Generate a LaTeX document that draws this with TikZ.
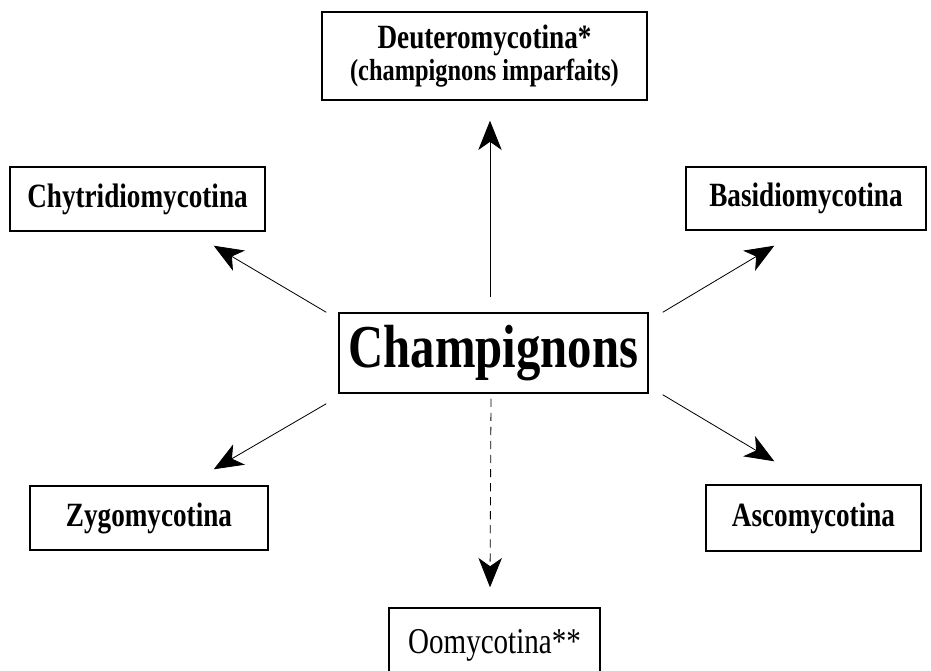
\documentclass[tikz,border=0pt]{standalone}
\usepackage{fontspec}
\setmainfont{Liberation Serif}[FakeStretch=0.8]
\usetikzlibrary{arrows.meta,calc}

\newcommand\pxu{0.03cm}

\tikzset{
  groupe/.style={draw, line width=1.2pt, inner sep=0pt,
    font=\bfseries\fontsize{29}{31}\selectfont},
  fleche/.style={line width=0.7pt,
    -{Stealth[length=25pt,width=20pt,inset=7pt]}}
}

\begin{document}
\begin{tikzpicture}[x=0.03cm,y=-0.03cm]

\useasboundingbox (0,0) rectangle (931,670);

% Centre
\node[groupe, minimum width=309*\pxu, minimum height=80*\pxu,
  font=\bfseries\fontsize{52}{54}\selectfont]
(champ) at (493.5,353)
{Champignons};

% Groupes
\node[groupe, minimum width=325*\pxu, minimum height=88*\pxu, align=center]
(deut) at (484.5,56)
{Deuteromycotina*\\[-4pt]
{\fontsize{26}{28}\selectfont (champignons imparfaits)}};

\node[groupe, minimum width=255*\pxu, minimum height=64*\pxu]
(chyt) at (137.5,199)
{Chytridiomycotina};

\node[groupe, minimum width=240*\pxu, minimum height=63*\pxu]
(basi) at (806,198.5)
{Basidiomycotina};

\node[groupe, minimum width=238*\pxu, minimum height=64*\pxu]
(zygo) at (149,518)
{Zygomycotina};

\node[groupe, minimum width=215*\pxu, minimum height=66*\pxu]
(asco) at (813.5,518)
{Ascomycotina};

\node[groupe, minimum width=211*\pxu, minimum height=74*\pxu,
  font=\fontsize{31}{33}\selectfont]
(oomy) at (494.5,645)
{Oomycotina**};

% Fleches
\draw[fleche]
($(champ.north)+(-3.5,-15)$) --
($(deut.south)+(5.5,20)$);

\draw[fleche]
($(champ.north west)+(-12,0)$) --
($(chyt.south east)+(-52,14)$);

\draw[fleche]
($(champ.north east)+(14,0)$) --
($(basi.south west)+(89,15)$);

\draw[fleche]
($(champ.south west)+(-12,10)$) --
($(zygo.north east)+(-55,-16)$);

\draw[fleche]
($(champ.south east)+(14,1)$) --
($(asco.north west)+(69,-23)$);

\draw[fleche, dash pattern=on 7pt off 5pt]
($(champ.south)+(-2.5,5)$) --
($(oomy.north)+(-4.5,-20)$);

\end{tikzpicture}
\end{document}
